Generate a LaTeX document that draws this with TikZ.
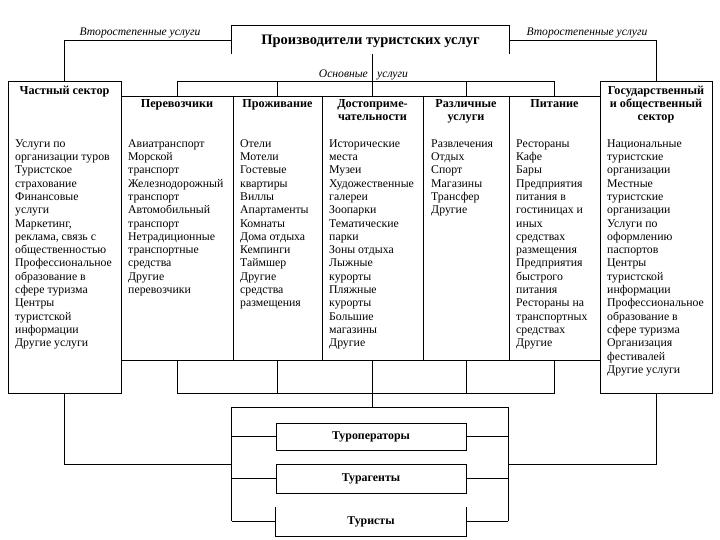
\documentclass[tikz,border=0pt]{standalone}
\usepackage{fontspec}
\setmainfont{Liberation Serif}
\usetikzlibrary{fit}
\begin{document}
\begin{tikzpicture}[x=1pt,y=-1pt,
  box/.style={draw, line width=0.9pt, inner sep=0pt},
  hidden/.style={inner sep=0pt},
  conn/.style={line width=0.9pt},
  body/.style={anchor=north west, align=left, inner sep=0pt, font=\fontsize{11.8}{13.3}\selectfont},
  head/.style={anchor=north, align=center, inner sep=0pt, font=\fontsize{12.2}{13.3}\selectfont\bfseries},
  lbl/.style={inner sep=0pt, font=\fontsize{11.6}{13.3}\selectfont\itshape},
  bold/.style={font=\fontsize{11.9}{13.3}\selectfont\bfseries}
]
\useasboundingbox (0,0) rectangle (720,540);

% title box (open at bottom)
\node[hidden, fit={(232,26)(509,54)}] (title) {};
\draw[conn] (title.south west) -- (title.north west) -- (title.north east) -- (title.south east);
\node[anchor=base, inner sep=0pt, font=\fontsize{14.5}{16}\selectfont\bfseries] (titletext) at (370.5,44.5) {Производители туристских услуг};

% sector boxes
\node[box, fit={(8,81)(121,393)}] (priv) {};
\node[box, fit={(600,81)(712,393)}] (gov) {};

% middle columns
\node[box, fit={(121,96)(233,360)}] (c1) {};
\node[box, fit={(233,96)(322,360)}] (c2) {};
\node[box, fit={(322,96)(423,360)}] (c3) {};
\node[box, fit={(423,96)(509,360)}] (c4) {};
\node[box, fit={(509,96)(600,360)}] (c5) {};

% bottom frame (open at bottom)
\node[hidden, fit={(232,408)(508,521)}] (frame) {};
\draw[conn] (frame.south west) -- (frame.north west) -- (frame.north east) -- (frame.south east);

\node[box, bold, fit={(276,423)(466,450)}] (tourop) {};
\node[bold] at (tourop.center) {Туроператоры};
\node[box, bold, fit={(276,464)(466,493)}] (agent) {};
\node[bold] at (agent.center) {Турагенты};
\node[hidden, fit={(276,507)(466,536)}] (tourist) {};
\draw[conn] (tourist.north west) -- (tourist.south west) -- (tourist.south east) -- (tourist.north east);
\node[bold] at (tourist.center) {Туристы};

% labels on connectors
\node[lbl, anchor=base] (sec1) at (140,36) {Второстепенные услуги};
\node[lbl, anchor=base] (sec2) at (587,36) {Второстепенные услуги};
\node[lbl, anchor=base east] (main1) at (368,78) {Основные};
\node[lbl, anchor=base west] (main2) at (377,78) {услуги};

% connectors top
\coordinate (busy) at (0,81);
\draw[conn] (title.west) -| (priv.north);
\draw[conn] (title.east) -| (gov.north);
\draw[conn] (c3.north |- title.south) -- (c3.north);
\draw[conn] (c1.north) -- (c1.north |- busy) -- (c5.north |- busy) -- (c5.north);
\draw[conn] (c2.north) -- (c2.north |- busy);
\draw[conn] (c4.north) -- (c4.north |- busy);

% connectors bottom strip
\draw[conn] (c1.south) -- (c1.south |- priv.south) -- (c5.south |- priv.south) -- (c5.south);
\draw[conn] (c2.south) -- (c2.south |- priv.south);
\draw[conn] (c4.south) -- (c4.south |- priv.south);
\draw[conn] (c3.south) -- (c3.south |- frame.north);
\draw[conn] (priv.south) |- (frame.west);
\draw[conn] (gov.south) |- (frame.east);

% stubs to inner boxes
\draw[conn] (frame.west |- tourop.west) -- (tourop.west);
\draw[conn] (frame.west |- agent.west) -- (agent.west);
\draw[conn] (frame.west |- tourist.west) -- (tourist.west);
\draw[conn] (frame.east |- tourop.east) -- (tourop.east);
\draw[conn] (frame.east |- agent.east) -- (agent.east);
\draw[conn] (frame.east |- tourist.east) -- (tourist.east);

% headings
\node[head] (hpriv) at (64.5,84.7) {\strut Частный сектор};
\node[head] (hgov) at (656,84.7) {\strut Государственный\\и общественный\\сектор};
\node[head] (h1) at (177,97.7) {\strut Перевозчики};
\node[head] (h2) at (277.5,97.7) {\strut Проживание};
\node[head] (h3) at (372.5,97.7) {\strut Достоприме-\\чательности};
\node[head] (h4) at (466,97.7) {\strut Различные\\услуги};
\node[head] (h5) at (554.5,97.7) {\strut Питание};

% bodies
\node[body] (tpriv) at (15,137.7) {\strut Услуги по\\организации туров\\Туристское\\страхование\\Финансовые\\услуги\\Маркетинг,\\реклама, связь с\\общественностью\\Профессиональное\\образование в\\сфере туризма\\Центры\\туристской\\информации\\Другие услуги};
\node[body] (t1) at (128,137.7) {\strut Авиатранспорт\\Морской\\транспорт\\Железнодорожный\\транспорт\\Автомобильный\\транспорт\\Нетрадиционные\\транспортные\\средства\\Другие\\перевозчики};
\node[body] (t2) at (240,137.7) {\strut Отели\\Мотели\\Гостевые\\квартиры\\Виллы\\Апартаменты\\Комнаты\\Дома отдыха\\Кемпинги\\Таймшер\\Другие\\средства\\размещения};
\node[body] (t3) at (329,137.7) {\strut Исторические\\места\\Музеи\\Художественные\\галереи\\Зоопарки\\Тематические\\парки\\Зоны отдыха\\Лыжные\\курорты\\Пляжные\\курорты\\Большие\\магазины\\Другие};
\node[body] (t4) at (431,137.7) {\strut Развлечения\\Отдых\\Спорт\\Магазины\\Трансфер\\Другие};
\node[body] (t5) at (516,137.7) {\strut Рестораны\\Кафе\\Бары\\Предприятия\\питания в\\гостиницах и\\иных\\средствах\\размещения\\Предприятия\\быстрого\\питания\\Рестораны на\\транспортных\\средствах\\Другие};
\node[body] (tgov) at (607,137.7) {\strut Национальные\\туристские\\организации\\Местные\\туристские\\организации\\Услуги по\\оформлению\\паспортов\\Центры\\туристской\\информации\\Профессиональное\\образование в\\сфере туризма\\Организация\\фестивалей\\Другие услуги};
\end{tikzpicture}
\end{document}
